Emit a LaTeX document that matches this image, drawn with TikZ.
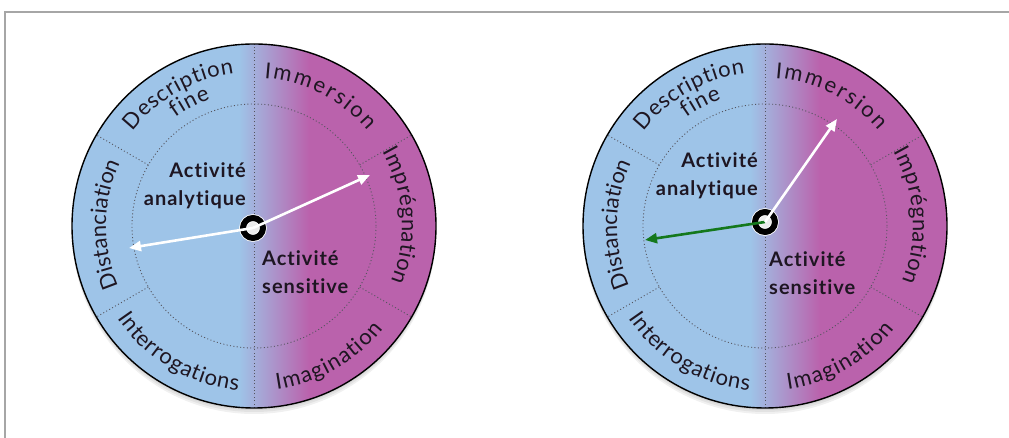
\documentclass[tikz,border=0pt]{standalone}
\usepackage{fontspec}
\setmainfont{Lato}[Ligatures=CommonOff]
\usetikzlibrary{arrows.meta, decorations.text}
\definecolor{dialblue}{RGB}{158, 196, 232}
\definecolor{dialpink}{RGB}{186, 98, 172}
\definecolor{dialink}{RGB}{30, 22, 34}
\definecolor{dotgray}{RGB}{85, 85, 95}
\definecolor{framegray}{RGB}{166, 166, 166}
\definecolor{needlegreen}{RGB}{20, 120, 28}
\newcommand{\ringfont}{\fontsize{22}{26}\selectfont}
\tikzset{
    dotline/.style={dotgray, line width=0.9pt, dash pattern=on 1pt off 2.4pt},
    ringtext/.style={font=\ringfont, decorate, decoration={text along path, text align={fit to path}, text={|\ringfont\color{dialink}|#1}}},
    actlabel/.style={inner sep=0pt, text=dialink, font=\fontsize{20}{28}\selectfont\bfseries\addfontfeature{LetterSpace=5}},
    pivotnode/.style={circle, minimum size=20pt, inner sep=0pt, fill=gray!15, draw=white, line width=0.8pt, double=black, double distance=6pt},
    needle/.style={line width=2.6pt, -{Triangle[length=12pt, width=10pt]}}
}

\begin{document}
\begin{tikzpicture}[x=1pt, y=1pt]
    \useasboundingbox (0,0) rectangle (1009,438);
    \draw[framegray, line width=2pt] (1009,426) -- (5,426) -- (5,0);
    % the two dials
    \foreach \cx in {254,765}{
        \begin{scope}[shift={(\cx,212)}]
            \foreach \s in {2,4,6}
                \fill[black, opacity=0.06] (0,-\s) circle[radius=182];
            \begin{scope}
                \clip (0,0) circle[radius=182];
                \fill[dialblue] (-182,-182) rectangle (182,182);
                \shade[left color=dialblue, right color=dialpink] (-15,-182) rectangle (55,182);
                \fill[dialpink] (55,-182) rectangle (182,182);
            \end{scope}
            \draw[dotline] (0,0) circle[radius=122];
            \draw[dotline] (0,-182) -- (0,182);
            \foreach \a in {30,-30,150,210}
                \draw[dotline] (\a:122) -- (\a:182);
            \draw[line width=1.4pt] (0,0) circle[radius=182];
            % ring labels
            \path[ringtext=Description] (142:154) arc[start angle=142, end angle=97.5, radius=154];
            \path[ringtext=fine] (126:134) arc[start angle=126, end angle=109, radius=134];
            \path[ringtext=Immersion] (86:148) arc[start angle=86, end angle=40, radius=148];
            \path[ringtext=Imprégnation] (30:148) arc[start angle=30, end angle=-22, radius=148];
            \path[ringtext=Distanciation] (204:148) arc[start angle=204, end angle=156, radius=148];
            \path[ringtext=Interrogations] (214:165) arc[start angle=214, end angle=264.5, radius=165];
            \path[ringtext=Imagination] (278:165) arc[start angle=278, end angle=321.5, radius=165];
        \end{scope}
    }
    % inner labels
    \node[actlabel, align=right, anchor=east] (analyL) at (246,252) {Activité\\analytique};
    \node[actlabel, align=left, anchor=west] (sensL) at (262,165.5) {Activité\\sensitive};
    \node[actlabel, align=right, anchor=east] (analyR) at (758,262) {Activité\\analytique};
    \node[actlabel, align=left, anchor=west] (sensR) at (769,164.5) {Activité\\sensitive};
    % needles
    \node[pivotnode] (pivL) at (253,210) {};
    \coordinate (tipLw) at (129,190);
    \coordinate (tipLe) at (370,263);
    \draw[needle, white] (pivL.center) -- (tipLw);
    \draw[needle, white] (pivL.center) -- (tipLe);
    \node[pivotnode] (pivR) at (765,216) {};
    \coordinate (tipRn) at (837,319);
    \coordinate (tipRw) at (645,198);
    \draw[needle, needlegreen] (pivR.center) -- (tipRw);
    \draw[needle, white] (pivR.center) -- (tipRn);
\end{tikzpicture}
\end{document}
